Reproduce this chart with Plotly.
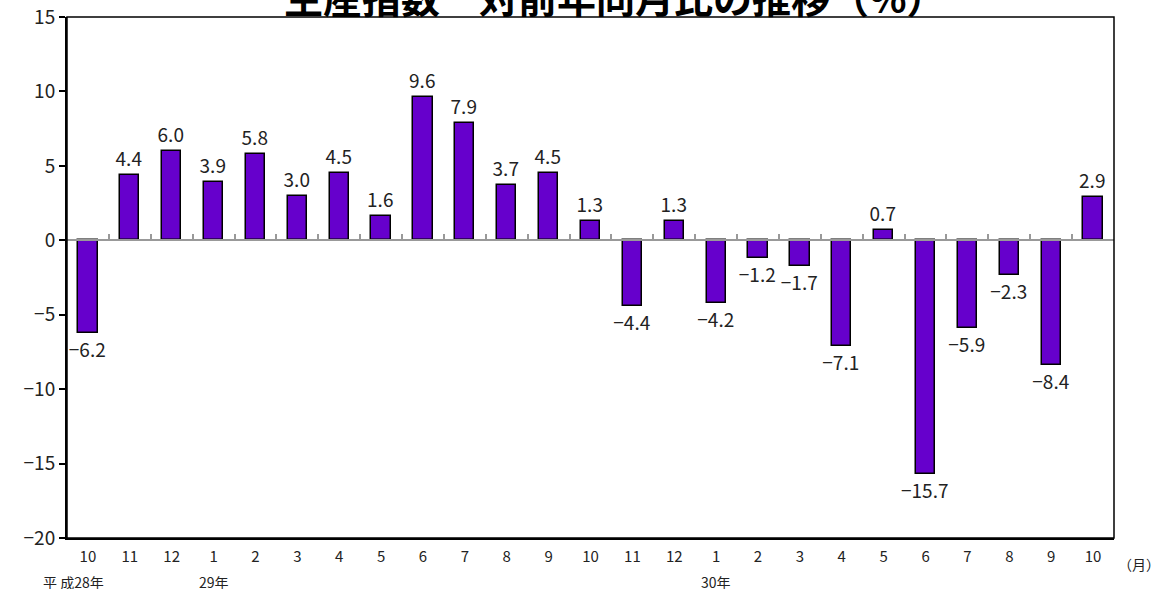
import plotly.graph_objects as go

months = ["10", "11", "12", "1", "2", "3", "4", "5", "6", "7", "8", "9",
          "10", "11", "12", "1", "2", "3", "4", "5", "6", "7", "8", "9", "10"]
values = [-6.2, 4.4, 6.0, 3.9, 5.8, 3.0, 4.5, 1.6, 9.6, 7.9, 3.7, 4.5,
          1.3, -4.4, 1.3, -4.2, -1.2, -1.7, -7.1, 0.7, -15.7, -5.9, -2.3, -8.4, 2.9]
year_labels = [(0, "平 成28年"), (3, "29年"), (15, "30年")]
y_ticks = [15, 10, 5, 0, -5, -10, -15, -20]
title_text = "生産指数　対前年同月比の推移（%）"

FONT = "Noto Sans CJK JP"
n = len(months)
xs = list(range(n))
labels = [f"{v:.1f}".replace("-", "−") for v in values]

fig = go.Figure()
fig.add_trace(go.Bar(
    x=xs, y=values, width=0.46,
    marker=dict(color="#6600CC", line=dict(color="#000000", width=1.5)),
    text=labels, textposition="outside", constraintext="none", cliponaxis=False,
    textfont=dict(family=FONT, size=19, color="#222222"),
    hoverinfo="skip",
))
# invisible trace to attach the zero-line axis
fig.add_trace(go.Scatter(x=[xs[0]], y=[0], xaxis="x2", mode="markers",
                         marker=dict(opacity=0), hoverinfo="skip", showlegend=False))

fig.update_layout(
    template="none",
    width=1158, height=589,
    margin=dict(l=67, r=44, t=17, b=51, autoexpand=False),
    paper_bgcolor="white", plot_bgcolor="white",
    showlegend=False,
    bargap=0,
    xaxis=dict(
        range=[-0.5, n - 0.5], tickmode="array", tickvals=xs, ticktext=months,
        showgrid=False, zeroline=False, showline=True, linecolor="#000000", linewidth=2,
        ticks="", ticklabelstandoff=4, automargin=False,
        tickfont=dict(family=FONT, size=15, color="#222222"),
    ),
    xaxis2=dict(
        overlaying="x", anchor="free", position=(0 - y_ticks[-1]) / (y_ticks[0] - y_ticks[-1]),
        side="top", range=[-0.5, n - 0.5], tickmode="array",
        tickvals=[i + 0.5 for i in xs[:-1]], showticklabels=False, automargin=False,
        ticks="outside", ticklen=5, tickwidth=1.5, tickcolor="#999999",
        showline=True, linecolor="#999999", linewidth=2, showgrid=False, zeroline=False,
    ),
    yaxis=dict(
        range=[y_ticks[-1], y_ticks[0]], tickmode="array", tickvals=y_ticks,
        ticktext=[str(t).replace("-", "−") for t in y_ticks], automargin=False,
        showgrid=False, zeroline=False, showline=True, linecolor="#000000", linewidth=2,
        ticks="outside", ticklen=6, tickwidth=1.5, tickcolor="#000000",
        tickfont=dict(family=FONT, size=19, color="#222222"),
    ),
    shapes=[dict(type="rect", xref="paper", yref="paper", x0=0, x1=1, y0=0, y1=1,
                 line=dict(color="#000000", width=1.5), layer="above")],
)

annotations = [dict(text="<b>" + title_text + "</b>", xref="paper", yref="paper", x=0.523, y=1.04,
                    xanchor="center", yanchor="middle", showarrow=False,
                    font=dict(family=FONT, size=39, color="#000000"))]
for idx, txt in year_labels:
    annotations.append(dict(text=txt, xref="x", yref="paper", x=idx - (0.35 if idx == 0 else 0),
                            y=-0.085, xanchor="center", yanchor="middle", showarrow=False,
                            font=dict(family=FONT, size=14, color="#222222")))
annotations.append(dict(text="（月）", xref="paper", yref="paper", x=1.0, xshift=2, y=-0.05,
                        xanchor="left", yanchor="middle", showarrow=False,
                        font=dict(family=FONT, size=14, color="#222222")))
fig.update_layout(annotations=annotations)

fig.write_html("out.html", config={"displayModeBar": False},
               post_script="document.body.style.margin='0';document.body.style.overflow='hidden';")
